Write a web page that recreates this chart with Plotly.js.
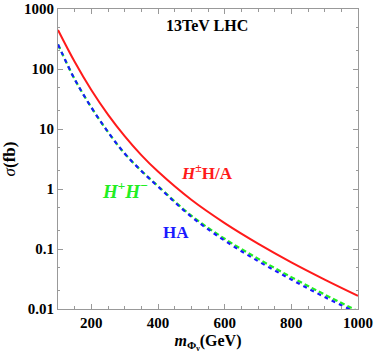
<!DOCTYPE html>
<html>
<head>
<meta charset="utf-8">
<script src="https://cdn.plot.ly/plotly-3.0.1.min.js"></script>
<style>html,body{margin:0;padding:0;background:#fff}#chart{width:374px;height:357px}</style>
</head>
<body>
<div id="chart"></div>
<script>
const mass = [100, 150, 200, 250, 300, 350, 400, 500, 600, 700, 800, 900, 1000];
const sigmaHpmHA = [447, 132, 44.7, 17.4, 7.6, 3.67, 1.95, 0.66, 0.27, 0.123, 0.060, 0.031, 0.0166];
const sigmaHpHm = [257, 67.6, 22.9, 8.9, 3.9, 2.02, 1.12, 0.36, 0.148, 0.069, 0.034, 0.0174, 0.0092];
const sigmaHA = [257, 67.6, 22.9, 8.9, 3.9, 2.0, 1.1, 0.345, 0.138, 0.063, 0.031, 0.0158, 0.0085];
const xTicks = [200, 400, 600, 800, 1000];
const yTicks = [0.01, 0.1, 1, 10, 100, 1000];
const yTickText = ['0.01', '0.1', '1', '10', '100', '1000'];

const serif = 'Liberation Serif, Times New Roman, serif';
const traces = [
  {x: mass, y: sigmaHpmHA, type: 'scatter', mode: 'lines', line: {color: '#ff1a1a', width: 2, shape: 'spline', smoothing: 1}, hoverinfo: 'none'},
  {x: mass, y: sigmaHpHm, type: 'scatter', mode: 'lines', line: {color: '#22ee22', width: 2.2, dash: '5px,3px', shape: 'spline', smoothing: 1}, hoverinfo: 'none'},
  {x: mass, y: sigmaHA, type: 'scatter', mode: 'lines', line: {color: '#1a1aff', width: 2.2, dash: '4px,4px', shape: 'spline', smoothing: 1}, hoverinfo: 'none'}
];
const axisCommon = {
  showline: true, linecolor: '#999', linewidth: 1, mirror: 'allticks',
  ticks: 'inside', tickcolor: '#999', showgrid: false, zeroline: false,
  tickfont: {family: serif, size: 15, color: '#000', weight: 'bold'}
};
const layout = {
  width: 374, height: 357,
  margin: {l: 58, r: 16, t: 9, b: 48},
  paper_bgcolor: '#fff', plot_bgcolor: '#fff',
  showlegend: false,
  font: {family: serif},
  xaxis: Object.assign({}, axisCommon, {
    range: [100, 1000], tickvals: xTicks, ticklen: 5,
    minor: {dtick: 50, ticks: 'inside', ticklen: 3, tickcolor: '#999'},
    title: {text: '<b><i>m</i><sub>Φ<sub>ν</sub></sub>(GeV)</b>', font: {family: serif, size: 16, color: '#000'}, standoff: 4}
  }),
  yaxis: Object.assign({}, axisCommon, {
    type: 'log', range: [-2, 3], tickvals: yTicks, ticktext: yTickText, ticklen: 5,
    minor: {ticks: 'inside', ticklen: 2, tickcolor: '#999'},
    title: {text: '<i>σ</i><b>(fb)</b>', font: {family: serif, size: 17, color: '#000'}, standoff: 6}
  }),
  annotations: [
    {x: 547, y: 2.73, xref: 'x', yref: 'y', text: '<b>13TeV LHC</b>', showarrow: false, font: {family: serif, size: 16, color: '#000'}},
    {x: 547, y: 0.283, xref: 'x', yref: 'y', text: '<b><i>H</i><sup>±</sup>H/A</b>', showarrow: false, font: {family: serif, size: 17, color: '#ff1a1a'}},
    {x: 302, y: -0.01, xref: 'x', yref: 'y', text: '<b><i>H</i><sup>+</sup><i>H</i><sup>−</sup></b>', showarrow: false, font: {family: serif, size: 19, color: '#22ee22'}},
    {x: 454, y: -0.717, xref: 'x', yref: 'y', text: '<b>HA</b>', showarrow: false, font: {family: serif, size: 17, color: '#1a1aff'}}
  ]
};
Plotly.newPlot('chart', traces, layout, {staticPlot: true, displayModeBar: false});
</script>
</body>
</html>
